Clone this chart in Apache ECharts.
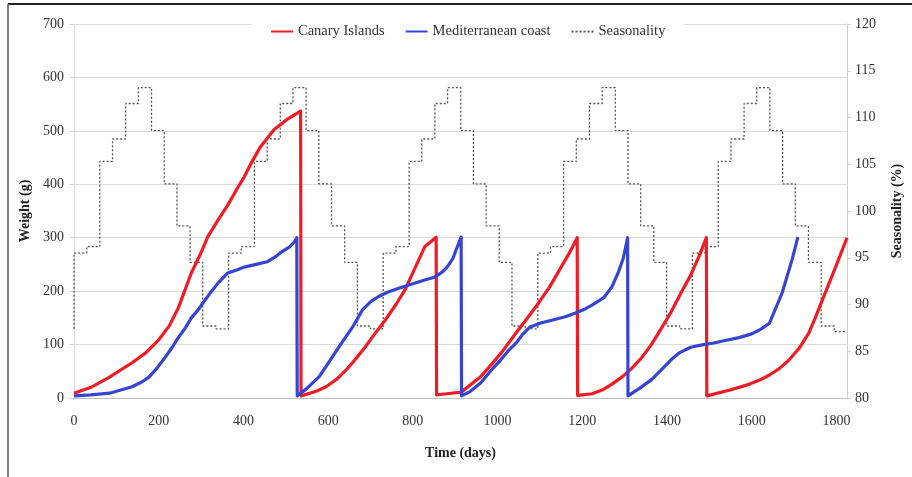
<!DOCTYPE html>
<html>
<head>
<meta charset="utf-8">
<script src="https://cdn.jsdelivr.net/npm/echarts@6/dist/echarts.min.js"></script>
<style>
  html, body { margin: 0; padding: 0; background: #fff; }
  #chart { width: 912px; height: 477px; }
</style>
</head>
<body>
<div id="chart"></div>
<script>
// Canary Islands (red), days / weight g
const canaryDays = [0, 40, 84, 137, 170, 200, 225, 247, 277, 300, 316, 340, 363, 386, 402, 420, 440, 472, 502, 535,
  536, 570, 595, 620, 642, 665, 688, 710, 735, 760, 781, 805, 828, 855,
  856, 880, 914, 960, 985, 1014, 1040, 1067, 1095, 1123, 1150, 1170, 1188,
  1189, 1223, 1250, 1270, 1295, 1316, 1340, 1363, 1385, 1409, 1432, 1456, 1475, 1493,
  1494, 1549, 1595, 1620, 1642, 1665, 1688, 1712, 1735, 1750, 1765, 1798, 1825]
const canaryWeight = [9, 20, 39, 66, 85, 109, 135, 170, 234, 272, 302, 333, 361, 393, 414, 442, 470, 502, 521, 537,
  4, 12, 21, 35, 52, 73, 96, 120, 146, 175, 202, 243, 283, 301,
  6, 8, 11, 40, 62, 90, 118, 146, 176, 208, 245, 272, 300,
  5, 8, 16, 26, 40, 55, 75, 100, 128, 160, 195, 230, 264, 300,
  4, 15, 26, 34, 43, 55, 71, 93, 122, 150, 180, 245, 300]

// Mediterranean coast (blue)
const medDays = [0, 40, 84, 137, 160, 177, 195, 216, 232, 247, 262, 277, 293, 309, 325, 340, 363, 386, 402, 430, 456, 475, 486, 509, 520, 526,
  527, 550, 579, 600, 626, 645, 658, 681, 700, 719, 740, 765, 800, 828, 851, 870, 881, 895, 902, 914,
  915, 935, 960, 985, 1007, 1025, 1044, 1060, 1077, 1100, 1130, 1160, 1184, 1205, 1223, 1251, 1270, 1285, 1297, 1307,
  1308, 1335, 1363, 1386, 1409, 1430, 1456, 1480, 1510, 1540, 1570, 1600, 1620, 1642, 1672, 1695, 1709]
const medWeight = [4, 6, 9, 21, 30, 39, 55, 77, 95, 114, 130, 150, 165, 183, 200, 215, 234, 240, 245, 250, 255, 264, 271, 283, 292, 300,
  4, 18, 40, 65, 96, 118, 133, 165, 180, 190, 198, 205, 214, 221, 226, 236, 245, 262, 277, 301,
  4, 12, 28, 52, 71, 88, 103, 120, 133, 140, 146, 152, 159, 166, 174, 188, 208, 235, 262, 300,
  4, 18, 34, 52, 71, 85, 95, 99, 103, 108, 113, 120, 128, 140, 197, 258, 301]

// Seasonality (%), monthly steps
const seasonDays = [0,
  0, 30, 61, 91, 122, 152, 183, 213, 243, 274, 304, 335,
  365, 395, 426, 456, 487, 517, 548, 578, 608, 639, 669, 700,
  730, 760, 791, 821, 852, 882, 913, 943, 973, 1004, 1034, 1065,
  1095, 1125, 1156, 1186, 1217, 1247, 1278, 1308, 1338, 1369, 1399, 1430,
  1460, 1490, 1521, 1551, 1582, 1612, 1643, 1673, 1703, 1734, 1764, 1795,
  1825]
const seasonValues = [87.4,
  95.5, 96.2, 105.3, 107.7, 111.5, 113.2, 108.6, 102.9, 98.4, 94.5, 87.7, 87.4,
  95.5, 96.2, 105.3, 107.7, 111.5, 113.2, 108.6, 102.9, 98.4, 94.5, 87.7, 87.4,
  95.5, 96.2, 105.3, 107.7, 111.5, 113.2, 108.6, 102.9, 98.4, 94.5, 87.7, 87.4,
  95.5, 96.2, 105.3, 107.7, 111.5, 113.2, 108.6, 102.9, 98.4, 94.5, 87.7, 87.4,
  95.5, 96.2, 105.3, 107.7, 111.5, 113.2, 108.6, 102.9, 98.4, 94.5, 87.7, 87.1,
  87.1]

const pairs = (xs, ys) => xs.map((x, i) => [x, ys[i]])

const font = '"Liberation Serif", "Times New Roman", serif'
const chart = echarts.init(document.getElementById('chart'))

chart.setOption({
  animation: false,
  textStyle: {fontFamily: font},
  grid: {left: 74, right: 52, top: 24, bottom: 79},
  legend: {
    left: 252,
    top: 22,
    padding: [2, 18],
    backgroundColor: '#fff',
    itemWidth: 22,
    itemHeight: 10,
    itemGap: 20,
    itemStyle: {opacity: 0},
    textStyle: {fontFamily: font, fontSize: 14.5, color: '#333'},
    data: ['Canary Islands', 'Mediterranean coast', 'Seasonality'],
  },
  xAxis: {
    type: 'value',
    min: 0,
    max: 1825,
    interval: 200,
    name: 'Time (days)',
    nameLocation: 'middle',
    nameGap: 48,
    nameTextStyle: {fontFamily: font, fontSize: 14, fontWeight: 'bold', color: '#222'},
    axisLine: {lineStyle: {color: '#bfbfbf'}},
    axisTick: {show: false},
    splitLine: {show: false},
    axisLabel: {
      fontFamily: font, fontSize: 14, color: '#333', margin: 16, showMaxLabel: false,
      formatter: (v) => String(v),
    },
  },
  yAxis: [
    {
      type: 'value',
      min: 0,
      max: 700,
      interval: 100,
      name: 'Weight (g)',
      nameLocation: 'middle',
      nameRotate: 90,
      nameGap: 37,
      nameTextStyle: {fontFamily: font, fontSize: 14, fontWeight: 'bold', color: '#222'},
      axisLine: {show: true, lineStyle: {color: '#d9d9d9'}},
      axisTick: {show: true, length: 4, lineStyle: {color: '#d0d0d0'}},
      splitLine: {lineStyle: {color: '#dcdcdc'}},
      axisLabel: {fontFamily: font, fontSize: 14, color: '#333', margin: 10},
    },
    {
      type: 'value',
      position: 'right',
      min: 80,
      max: 120,
      interval: 5,
      name: 'Seasonality (%)',
      nameLocation: 'middle',
      nameRotate: 90,
      nameGap: 43,
      nameTextStyle: {fontFamily: font, fontSize: 14, fontWeight: 'bold', color: '#222'},
      axisLine: {show: true, lineStyle: {color: '#cfcfcf'}},
      axisTick: {show: true, length: 4, lineStyle: {color: '#d0d0d0'}},
      splitLine: {show: false},
      axisLabel: {fontFamily: font, fontSize: 14, color: '#333', margin: 8},
    },
  ],
  series: [
    {
      name: 'Seasonality',
      type: 'line',
      yAxisIndex: 1,
      step: 'end',
      showSymbol: false,
      symbol: 'none',
      data: pairs(seasonDays, seasonValues),
      lineStyle: {color: '#555', width: 1.3, type: [2, 2]},
      itemStyle: {color: '#555'},
      z: 1,
    },
    {
      name: 'Canary Islands',
      type: 'line',
      showSymbol: false,
      symbol: 'none',
      data: pairs(canaryDays, canaryWeight),
      lineStyle: {color: '#f01b24', width: 3.2, join: 'round'},
      itemStyle: {color: '#f01b24'},
      z: 3,
    },
    {
      name: 'Mediterranean coast',
      type: 'line',
      showSymbol: false,
      symbol: 'none',
      data: pairs(medDays, medWeight),
      lineStyle: {color: '#3645d1', width: 3.2, join: 'round'},
      itemStyle: {color: '#3645d1'},
      z: 4,
    },
  ],
  graphic: [
    {type: 'line', shape: {x1: 8, y1: 4, x2: 912, y2: 4}, style: {stroke: '#222', lineWidth: 2}},
    {type: 'line', shape: {x1: 8, y1: 4, x2: 8, y2: 477}, style: {stroke: '#555', lineWidth: 1.5}},
  ],
})
</script>
</body>
</html>
